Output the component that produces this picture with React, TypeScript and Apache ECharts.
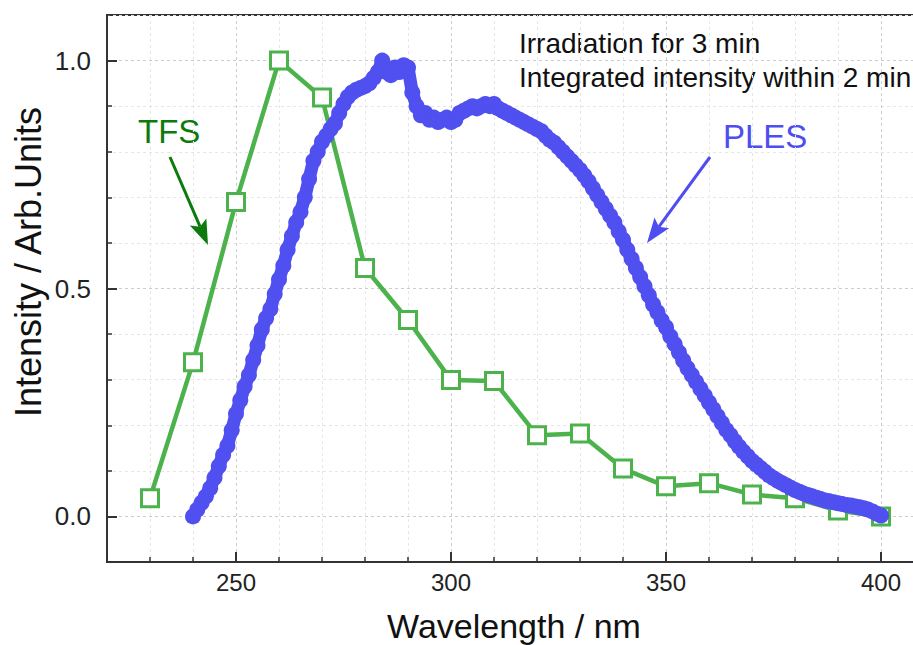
import React, { useEffect, useRef } from "react";
import * as echarts from "echarts";

// TFS: wavelength (nm) and normalized intensity
const tfsWavelength = [230, 240, 250, 260, 270, 280, 290, 300, 310, 320, 330, 340, 350, 360, 370, 380, 390, 400];
const tfsIntensity = [0.04, 0.338, 0.69, 1.0, 0.919, 0.545, 0.431, 0.299, 0.297, 0.178, 0.182, 0.105, 0.066, 0.073, 0.048, 0.04, 0.013, 0.0];

// PLES: sampled every 1 nm from 240 nm to 400 nm
const plesStart = 240;
const plesStep = 1;
const plesIntensity = [
  0.0, 0.015, 0.03, 0.044, 0.062, 0.085, 0.11, 0.135, 0.155, 0.189,
  0.225, 0.255, 0.285, 0.31, 0.343, 0.375, 0.41, 0.435, 0.455, 0.488,
  0.52, 0.55, 0.585, 0.615, 0.645, 0.668, 0.7, 0.74, 0.78, 0.8,
  0.822, 0.835, 0.85, 0.862, 0.885, 0.905, 0.92, 0.93, 0.936, 0.94,
  0.944, 0.95, 0.962, 0.975, 1.0, 0.975, 0.968, 0.985, 0.975, 0.99,
  0.985, 0.93, 0.9, 0.88, 0.885, 0.87, 0.875, 0.865, 0.87, 0.875,
  0.865, 0.87, 0.885, 0.89, 0.895, 0.9, 0.895, 0.9, 0.905, 0.9,
  0.905, 0.895, 0.89, 0.885, 0.88, 0.875, 0.87, 0.865, 0.86, 0.855,
  0.85, 0.845, 0.835, 0.826, 0.82, 0.81, 0.8, 0.79, 0.78, 0.77,
  0.76, 0.748, 0.735, 0.72, 0.705, 0.69, 0.675, 0.66, 0.645, 0.625,
  0.607, 0.585, 0.565, 0.545, 0.525, 0.505, 0.485, 0.465, 0.448, 0.43,
  0.415, 0.395, 0.378, 0.36, 0.342, 0.325, 0.31, 0.295, 0.28, 0.265,
  0.25, 0.235, 0.22, 0.205, 0.19, 0.178, 0.165, 0.153, 0.142, 0.132,
  0.122, 0.114, 0.106, 0.098, 0.09, 0.084, 0.078, 0.073, 0.068, 0.063,
  0.058, 0.054, 0.05, 0.047, 0.044, 0.041, 0.038, 0.035, 0.033, 0.031,
  0.029, 0.027, 0.025, 0.024, 0.022, 0.02, 0.018, 0.015, 0.011, 0.006,
  0.002,
];

const xMajorTicks = [250, 300, 350, 400];
const yMajorTicks = [0, 0.5, 1.0];
const annotationLines = ["Irradiation for 3 min", "Integrated intensity within 2 min"];
const xTitle = "Wavelength / nm";
const yTitle = "Intensity / Arb.Units";

const GREEN = "#4cb34c";
const DARK_GREEN = "#0c7a0c";
const BLUE = "#5050f0";
const AXIS = "#333333";
const FONT = "'Liberation Sans', Arial, sans-serif";

function arrowHead(x0: number, y0: number, x1: number, y1: number, len: number, half: number) {
  const dx = x1 - x0;
  const dy = y1 - y0;
  const L = Math.hypot(dx, dy);
  const ux = dx / L;
  const uy = dy / L;
  const nx = -uy;
  const ny = ux;
  const bx = x1 - len * ux;
  const by = y1 - len * uy;
  const notchX = x1 - len * 0.8 * ux;
  const notchY = y1 - len * 0.8 * uy;
  return {
    head: [
      [x1, y1],
      [bx + half * nx, by + half * ny],
      [notchX, notchY],
      [bx - half * nx, by - half * ny],
    ],
    shaftEnd: [notchX, notchY],
  };
}

export default function App() {
  const ref = useRef<HTMLDivElement>(null);

  useEffect(() => {
    if (!ref.current) return;
    const chart = echarts.init(ref.current, undefined, { renderer: "svg" });

    const tfsData = tfsWavelength.map((x, i) => [x, tfsIntensity[i]]);
    const plesData = plesIntensity.map((y, i) => [plesStart + i * plesStep, y]);

    const tfsArrow = arrowHead(170, 157, 208, 245, 25, 9);
    const plesArrow = arrowHead(710, 157, 647, 243, 25, 9);

    const minorSplit = { show: true, lineStyle: { color: "#e6e6e6", type: [3, 3] as any, width: 1 } };
    const majorSplit = { show: true, lineStyle: { color: "#cccccc", type: [3, 3] as any, width: 1 } };

    chart.setOption({
      animation: false,
      backgroundColor: "#ffffff",
      grid: {
        left: 107,
        right: 0,
        top: 15,
        bottom: 83,
        show: true,
        borderColor: AXIS,
        borderWidth: 2,
        backgroundColor: "transparent",
      },
      xAxis: [
        {
          type: "value",
          min: 220,
          max: 410,
          interval: 10,
          position: "bottom",
          axisLine: { show: true, onZero: false, lineStyle: { color: AXIS, width: 2 } },
          axisTick: { show: true, inside: true, length: 5, lineStyle: { color: AXIS, width: 1.5 } },
          axisLabel: { show: false },
          splitLine: minorSplit,
        },
        {
          type: "value",
          min: 220,
          max: 410,
          position: "bottom",
          axisLine: { show: false, onZero: false },
          axisTick: { show: true, inside: true, length: 10, customValues: xMajorTicks, lineStyle: { color: AXIS, width: 2 } },
          axisLabel: {
            show: true,
            customValues: xMajorTicks,
            fontSize: 24,
            color: "#222",
            fontFamily: FONT,
            margin: 8,
          },
          splitLine: majorSplit,
        },
      ],
      yAxis: [
        {
          type: "value",
          min: -0.1,
          max: 1.1,
          interval: 0.1,
          position: "left",
          axisLine: { show: true, onZero: false, lineStyle: { color: AXIS, width: 2 } },
          axisTick: { show: true, inside: true, length: 5, lineStyle: { color: AXIS, width: 1.5 } },
          axisLabel: { show: false },
          splitLine: minorSplit,
        },
        {
          type: "value",
          min: -0.1,
          max: 1.1,
          position: "left",
          axisLine: { show: false, onZero: false },
          axisTick: { show: true, inside: true, length: 10, customValues: yMajorTicks, lineStyle: { color: AXIS, width: 2 } },
          axisLabel: {
            show: true,
            customValues: yMajorTicks,
            formatter: (v: number) => v.toFixed(1),
            fontSize: 26,
            color: "#222",
            fontFamily: FONT,
            margin: 16,
          },
          splitLine: majorSplit,
        },
      ],
      series: [
        {
          name: "TFS",
          type: "line",
          xAxisIndex: 0,
          yAxisIndex: 0,
          data: tfsData,
          symbol: "rect",
          symbolSize: 17,
          showAllSymbol: true,
          lineStyle: { color: GREEN, width: 4.5 },
          itemStyle: { color: "#ffffff", borderColor: GREEN, borderWidth: 3 },
          z: 2,
        },
        {
          name: "PLES",
          type: "line",
          xAxisIndex: 0,
          yAxisIndex: 0,
          data: plesData,
          symbol: "circle",
          symbolSize: 16,
          showAllSymbol: true,
          lineStyle: { color: BLUE, width: 13 },
          itemStyle: { color: BLUE, borderWidth: 0 },
          z: 3,
        },
      ],
      graphic: [
        {
          type: "text",
          x: 28,
          y: 262,
          rotation: Math.PI / 2,
          style: {
            text: yTitle,
            fontSize: 36,
            fontFamily: FONT,
            fill: "#111",
            align: "center",
            verticalAlign: "middle",
          },
        },
        {
          type: "text",
          x: 514,
          y: 626,
          style: {
            text: xTitle,
            fontSize: 34,
            fontFamily: FONT,
            fill: "#111",
            align: "center",
            verticalAlign: "middle",
          },
        },
        {
          type: "text",
          x: 519,
          y: 43,
          style: { text: annotationLines[0], fontSize: 28, fontFamily: FONT, fill: "#111", align: "left", verticalAlign: "middle" },
        },
        {
          type: "text",
          x: 519,
          y: 77,
          style: { text: annotationLines[1], fontSize: 28, fontFamily: FONT, fill: "#111", align: "left", verticalAlign: "middle" },
        },
        {
          type: "text",
          x: 138,
          y: 131,
          style: { text: "TFS", fontSize: 33, fontFamily: FONT, fill: DARK_GREEN, align: "left", verticalAlign: "middle" },
        },
        {
          type: "text",
          x: 723,
          y: 136,
          style: { text: "PLES", fontSize: 33, fontFamily: FONT, fill: "#4d4df2", align: "left", verticalAlign: "middle" },
        },
        {
          type: "line",
          shape: { x1: 170, y1: 157, x2: tfsArrow.shaftEnd[0], y2: tfsArrow.shaftEnd[1] },
          style: { stroke: DARK_GREEN, lineWidth: 3 },
          z: 10,
        },
        {
          type: "polygon",
          shape: { points: tfsArrow.head },
          style: { fill: DARK_GREEN },
          z: 10,
        },
        {
          type: "line",
          shape: { x1: 710, y1: 157, x2: plesArrow.shaftEnd[0], y2: plesArrow.shaftEnd[1] },
          style: { stroke: "#4d4df2", lineWidth: 3 },
          z: 10,
        },
        {
          type: "polygon",
          shape: { points: plesArrow.head },
          style: { fill: "#4d4df2" },
          z: 10,
        },
      ],
    });

    return () => chart.dispose();
  }, []);

  return (
    <div style={{ position: "fixed", left: 0, top: 0, width: 913, height: 645, overflow: "hidden", background: "#fff" }}>
      <div ref={ref} style={{ width: 924, height: 645 }} />
    </div>
  );
}
